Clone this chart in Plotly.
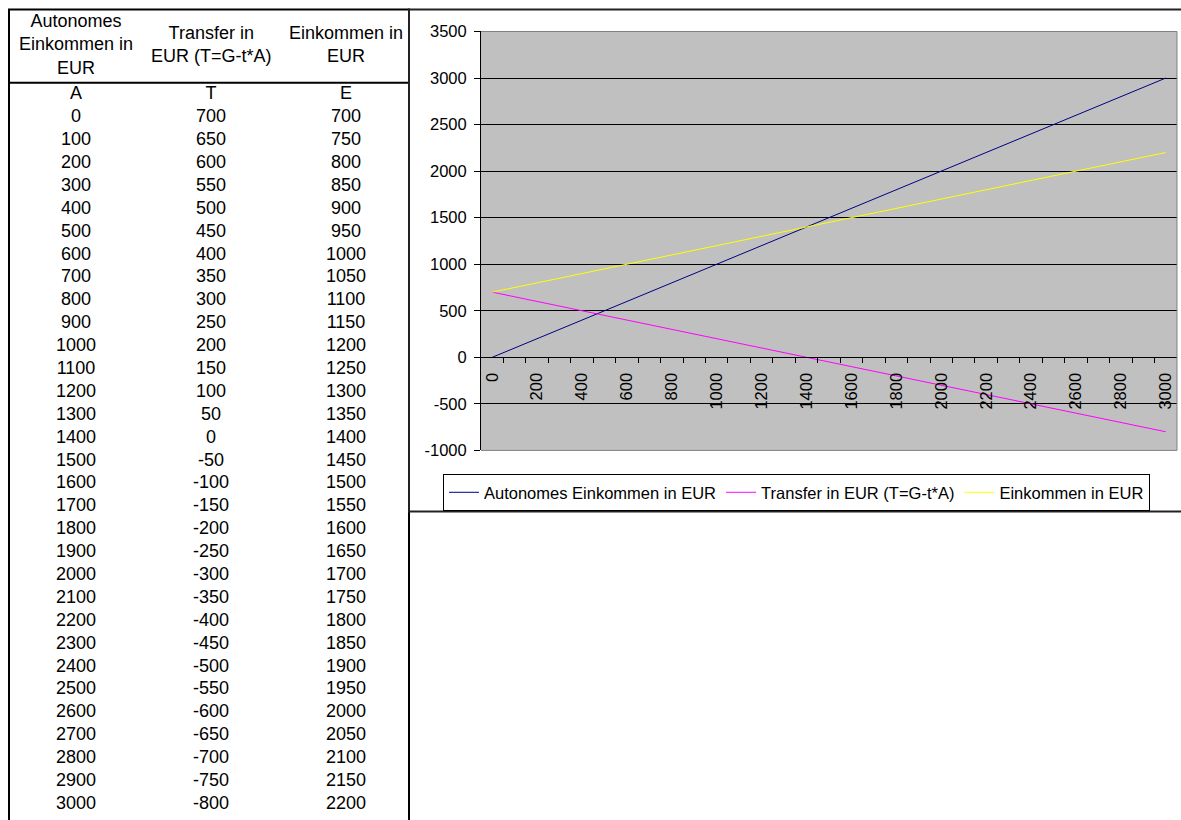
import plotly.graph_objects as go

W, H = 1181, 820

# ---- data -------------------------------------------------------------
autonom = [0, 100, 200, 300, 400, 500, 600, 700, 800, 900, 1000,
           1100, 1200, 1300, 1400, 1500, 1600, 1700, 1800, 1900, 2000,
           2100, 2200, 2300, 2400, 2500, 2600, 2700, 2800, 2900, 3000]
transfer = [700, 650, 600, 550, 500, 450, 400, 350, 300, 250, 200,
            150, 100, 50, 0, -50, -100, -150, -200, -250, -300,
            -350, -400, -450, -500, -550, -600, -650, -700, -750, -800]
einkommen = [700, 750, 800, 850, 900, 950, 1000, 1050, 1100, 1150, 1200,
             1250, 1300, 1350, 1400, 1450, 1500, 1550, 1600, 1650, 1700,
             1750, 1800, 1850, 1900, 1950, 2000, 2050, 2100, 2150, 2200]

col_titles = ["Autonomes<br>Einkommen in<br>EUR",
              "Transfer in<br>EUR (T=G-t*A)",
              "Einkommen in<br>EUR"]
col_symbols = ["A", "T", "E"]
series_names = ["Autonomes Einkommen in EUR",
                "Transfer in EUR (T=G-t*A)",
                "Einkommen in EUR"]
series_colors = ["#000080", "#FF00FF", "#FFFF00"]
y_ticks = [-1000, -500, 0, 500, 1000, 1500, 2000, 2500, 3000, 3500]
x_label_vals = autonom[::2]

FONT = "Liberation Sans, Arial, sans-serif"

# vertical layout positions (px from the top of the figure)
FRAME_TOP = 0.5
HEADER_RULE = 75.3
HEADER_MID = 36.0
FIRST_ROW = 87.8
ROW_PITCH = 23.40
PLOT_TOP = 23.0
PLOT_BOTTOM = 451.3
CHART_BOTTOM = 513.8
LEGEND_TOP = 475.5


def px(x):
    return x / W


def py(y):
    return 1 - y / H


fig = go.Figure()

# ---- table (text columns on a hidden axis pair) -----------------------
table_cols = [autonom, transfer, einkommen]
for sym, vals in zip(col_symbols, table_cols):
    fig.add_trace(go.Scatter(
        x=[sym] * (len(vals) + 1),
        y=list(range(len(vals) + 1)),
        text=[sym] + [str(v) for v in vals],
        mode="text",
        textposition="middle center",
        textfont=dict(family=FONT, size=18, color="black"),
        cliponaxis=False,
        xaxis="x2", yaxis="y2",
        showlegend=False, hoverinfo="skip",
    ))

# ---- chart lines ------------------------------------------------------
for name, vals, color in zip(series_names, [autonom, transfer, einkommen], series_colors):
    fig.add_trace(go.Scatter(
        x=autonom, y=vals, name=name, mode="lines",
        line=dict(color=color, width=1),
        hoverinfo="skip",
    ))

y_lo, y_hi = -1000, 3500
yd0, yd1 = py(PLOT_BOTTOM), py(PLOT_TOP)
x_pos = yd0 + (0 - y_lo) / (y_hi - y_lo) * (yd1 - yd0)
boundaries = [a + 50 for a in autonom[:-1]]

annotations = [
    dict(x=sym, y=py(HEADER_MID), xref="x2", yref="paper", text=t, showarrow=False,
         xanchor="center", yanchor="middle", align="center",
         font=dict(family=FONT, size=18, color="black"))
    for sym, t in zip(col_symbols, col_titles)
]

shapes = [
    # grey plot area fill
    dict(type="rect", xref="x domain", yref="y domain", x0=0, x1=1, y0=0, y1=1,
         layer="below", fillcolor="#C0C0C0", line=dict(width=0)),
    # table frame and header rule
    dict(type="rect", xref="paper", yref="paper", x0=px(9), x1=px(409),
         y0=py(FRAME_TOP), y1=-0.05, line=dict(color="black", width=2)),
    dict(type="line", xref="paper", yref="paper", x0=px(9), x1=px(409),
         y0=py(HEADER_RULE), y1=py(HEADER_RULE), line=dict(color="black", width=2)),
    # chart frame
    dict(type="rect", xref="paper", yref="paper", x0=px(409), x1=1.05,
         y0=py(CHART_BOTTOM), y1=py(FRAME_TOP), line=dict(color="#222222", width=2)),
    # plot area edges (top, right, bottom)
    dict(type="path", xref="x domain", yref="y domain",
         path="M 0 1 L 1 1 L 1 0 L 0 0", layer="above",
         line=dict(color="#808080", width=1)),
]

fig.update_layout(
    width=W, height=H,
    margin=dict(l=0, r=0, t=0, b=0),
    paper_bgcolor="white",
    plot_bgcolor="white",
    font=dict(family=FONT, size=16.5, color="black"),
    xaxis=dict(
        domain=[px(481), px(1177)], range=[-50, 3050],
        anchor="free", position=x_pos,
        tickmode="array", tickvals=x_label_vals,
        ticktext=[str(v) for v in x_label_vals],
        tickangle=-90, ticks="outside", ticklen=8, tickcolor="rgba(0,0,0,0)",
        showgrid=False, zeroline=False,
        showline=True, linecolor="black", linewidth=1,
        tickfont=dict(family=FONT, size=16.5, color="black"),
        minor=dict(tickmode="array", tickvals=boundaries, ticks="outside",
                   ticklen=5, tickcolor="black", tickwidth=1, showgrid=False),
    ),
    yaxis=dict(
        domain=[yd0, yd1], range=[y_lo, y_hi], anchor="x",
        tickmode="array", tickvals=y_ticks, ticktext=[str(v) for v in y_ticks],
        ticks="outside", ticklen=6, tickcolor="black",
        ticklabelstandoff=4,
        showgrid=True, gridcolor="black", gridwidth=1,
        zeroline=False, showline=True, linecolor="black", linewidth=1,
        tickfont=dict(family=FONT, size=16.5, color="black"),
    ),
    xaxis2=dict(
        domain=[px(8.5), px(413.5)], type="category",
        categoryorder="array", categoryarray=col_symbols,
        range=[-0.5, 2.5], visible=False, anchor="y2",
    ),
    yaxis2=dict(
        domain=[0, 1], range=[(H - FIRST_ROW) / ROW_PITCH, -FIRST_ROW / ROW_PITCH],
        visible=False, anchor="x2",
    ),
    legend=dict(
        orientation="h", x=px(443), y=py(LEGEND_TOP), xanchor="left", yanchor="top",
        bgcolor="white", bordercolor="black", borderwidth=1,
        font=dict(family=FONT, size=16.5, color="black"),
        itemwidth=30,
    ),
    annotations=annotations,
    shapes=shapes,
)

fig.write_html("out.html")
